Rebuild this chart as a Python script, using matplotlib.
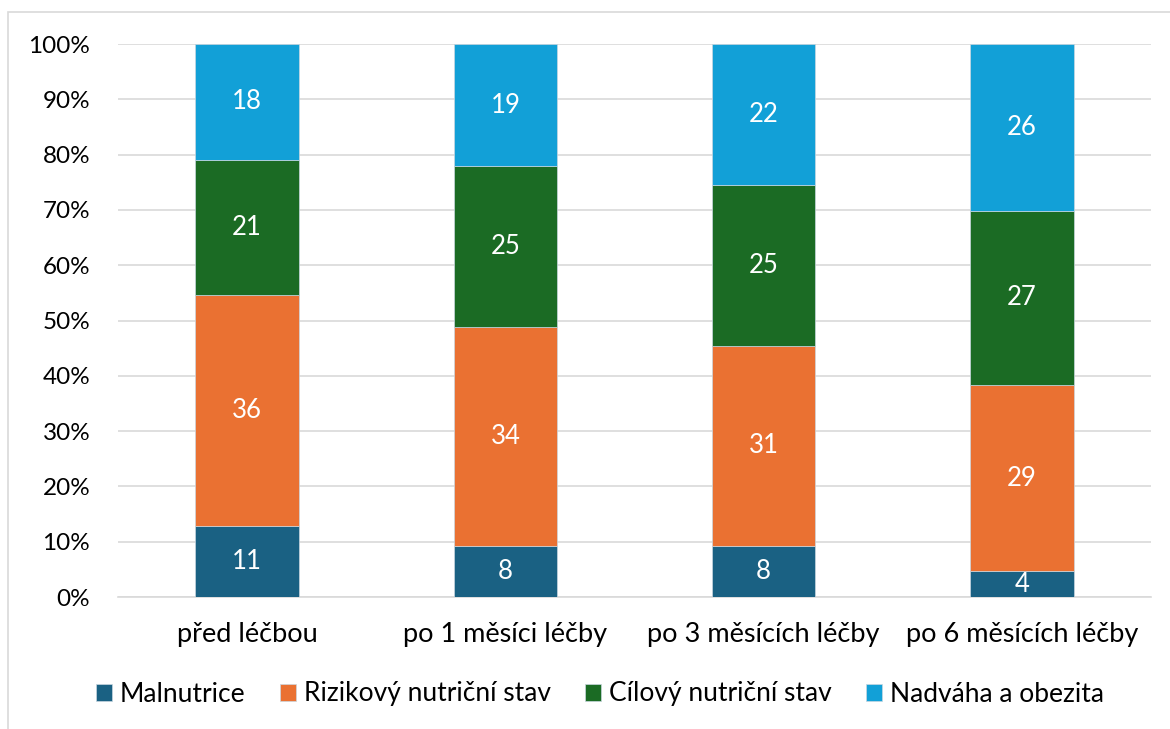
import matplotlib
matplotlib.use("Agg")
import matplotlib.pyplot as plt
from matplotlib.patches import Rectangle
import numpy as np

categories = ["před léčbou", "po 1 měsíci léčby", "po 3 měsících léčby", "po 6 měsících léčby"]
series_names = ["Malnutrice", "Rizikový nutriční stav", "Cílový nutriční stav", "Nadváha a obezita"]
malnutrice = [11, 8, 8, 4]
rizikovy = [36, 34, 31, 29]
cilovy = [21, 25, 25, 27]
nadvaha = [18, 19, 22, 26]
colors = ["#1a6183", "#ea7132", "#1b6b24", "#12a0d7"]

plt.rcParams['font.family'] = ['Lato', 'DejaVu Sans']

data = np.array([malnutrice, rizikovy, cilovy, nadvaha], dtype=float)
totals = data.sum(axis=0)
pct = data / totals * 100

fig = plt.figure(figsize=(11.7, 7.29), dpi=100)
ax = fig.add_axes([118/1170, 1 - 597/729, (1151-118)/1170, (597-44)/729])

# outer frame
fig.patches.append(Rectangle((8/1170, -0.01), 1.1, 1 - 12/729 + 0.01, transform=fig.transFigure,
                             fill=False, edgecolor="#d9d9d9", linewidth=1.2))

x = np.arange(len(categories))
bottom = np.zeros(len(categories))
for i, name in enumerate(series_names):
    ax.bar(x, pct[i], 0.4, bottom=bottom, color=colors[i], label=name,
           edgecolor="#c9d7e0", linewidth=0.5, zorder=3)
    for j in range(len(categories)):
        ax.text(x[j], bottom[j] + pct[i][j] / 2, f"{int(data[i][j])}", ha="center", va="center",
                color="white", fontsize=18.5, zorder=4)
    bottom += pct[i]

ax.set_xlim(-0.5, len(categories) - 0.5)
ax.set_ylim(0, 100)
ax.set_yticks(np.arange(0, 101, 10))
ax.set_yticklabels([f"{v}%" for v in range(0, 101, 10)], fontsize=17.5)
ax.set_xticks(x)
ax.set_xticklabels(categories, fontsize=19.5)
ax.tick_params(axis="both", length=0)
ax.tick_params(axis="y", pad=20)
ax.tick_params(axis="x", pad=18)
ax.grid(axis="y", color="#d9d9d9", linewidth=1.2, zorder=0)
for s in ["top", "right", "left"]:
    ax.spines[s].set_visible(False)
ax.spines["bottom"].set_color("#d9d9d9")
ax.spines["bottom"].set_linewidth(1.2)

ax.legend(loc="center", bbox_to_anchor=(600/1170, 1 - 694/729), bbox_transform=fig.transFigure,
          ncol=4, frameon=False, fontsize=19, handlelength=0.6, handleheight=0.6,
          handletextpad=0.3, columnspacing=1.3)

fig.savefig("out.png", dpi=100)
